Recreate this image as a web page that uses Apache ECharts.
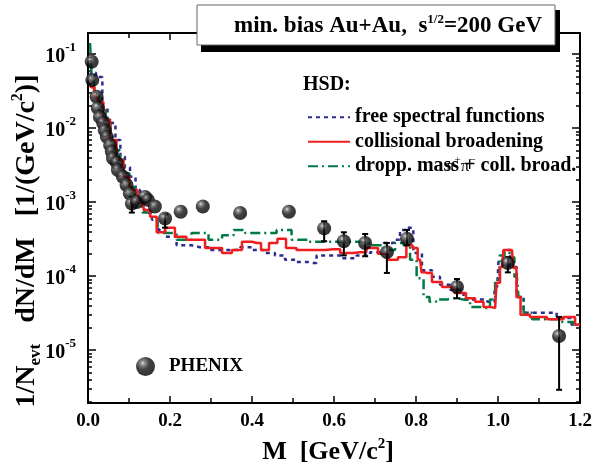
<!DOCTYPE html>
<html><head><meta charset="utf-8">
<script src="https://cdn.jsdelivr.net/npm/echarts@6/dist/echarts.min.js"></script>
<style>html,body{margin:0;padding:0;background:#fff}#c{width:602px;height:464px}</style>
</head><body><div id="c"></div>
<script>
// ---------- data ----------
const xTickLabels = ['0.0','0.2','0.4','0.6','0.8','1.0','1.2'];
const yTickExponents = [-5,-4,-3,-2,-1];

// HSD: free spectral functions (blue dotted)
const mFree = [0.005,0.010,0.029,0.041,0.054,0.061,0.073,0.085,0.095,0.110,0.122,0.132,0.144,0.168,0.176,0.200,0.232,0.273,0.315,0.354,0.388,0.412,0.444,0.468,0.493,0.524,0.549,0.566,0.598,0.639,0.671,0.705,0.737,0.754,0.768,0.785,0.802,0.827,0.851,0.866,0.900,0.932,0.963,0.985,0.998,1.005,1.022,1.037,1.054,1.071,1.095,1.127,1.159,1.200];
const yFree = [0.050,0.056,0.049,0.019,0.0129,0.0117,0.0069,0.0041,0.00295,0.0022,0.00145,9.8e-4,7.1e-4,5.75e-4,4.2e-4,3.4e-4,2.6e-4,2.45e-4,2.25e-4,2.25e-4,2.45e-4,2.25e-4,2.05e-4,1.9e-4,1.66e-4,1.55e-4,1.5e-4,1.9e-4,1.9e-4,1.74e-4,1.9e-4,2.1e-4,2.8e-4,3.1e-4,4.2e-4,4.5e-4,2.05e-4,1.2e-4,9.8e-5,7.6e-5,6.5e-5,4.8e-5,4.8e-5,4.5e-5,7.1e-5,1.66e-4,2.25e-4,1.32e-4,5.2e-5,3.2e-5,3.2e-5,3.2e-5,2.7e-5,2.2e-5];

// HSD: collisional broadening (red solid)
const mColl = [0.005,0.010,0.022,0.029,0.046,0.061,0.078,0.095,0.107,0.115,0.127,0.144,0.159,0.176,0.200,0.224,0.256,0.315,0.339,0.363,0.388,0.412,0.432,0.451,0.473,0.493,0.524,0.559,0.598,0.632,0.663,0.695,0.720,0.744,0.768,0.785,0.798,0.810,0.817,0.827,0.851,0.876,0.912,0.932,0.956,0.973,0.993,1.000,1.010,1.017,1.034,1.041,1.049,1.061,1.095,1.144,1.176,1.200];
const yColl = [0.038,0.0355,0.0263,0.0224,0.0129,0.0069,0.0037,0.0022,0.00158,0.00145,9.8e-4,7.8e-4,6.3e-4,3.9e-4,4.5e-4,3.4e-4,3.1e-4,2.4e-4,2.05e-4,2.25e-4,2.9e-4,2.8e-4,2.25e-4,2.8e-4,3.2e-4,2.4e-4,2.25e-4,2.25e-4,2.3e-4,2.05e-4,2.1e-4,2.4e-4,2.0e-4,1.66e-4,1.8e-4,2.6e-4,2.4e-4,1.66e-4,1.12e-4,1.1e-4,8.3e-5,7.1e-5,5.9e-5,5.0e-5,4.5e-5,3.8e-5,3.7e-5,8.1e-5,1.32e-4,2.25e-4,2.25e-4,1.29e-4,5.2e-5,3.0e-5,2.8e-5,2.6e-5,2.8e-5,2.2e-5];

// HSD: dropping mass + coll. broad. (green dash-dot)
const mDrop = [0.005,0.012,0.017,0.037,0.049,0.061,0.073,0.083,0.095,0.107,0.122,0.144,0.168,0.176,0.200,0.232,0.273,0.315,0.339,0.371,0.395,0.420,0.444,0.476,0.517,0.559,0.607,0.663,0.705,0.737,0.761,0.778,0.793,0.810,0.827,0.839,0.859,0.890,0.915,0.949,0.973,0.988,0.998,1.010,1.022,1.034,1.046,1.054,1.071,1.095,1.134,1.168,1.200];
const yDrop = [0.141,0.055,0.0295,0.0174,0.0129,0.0076,0.0050,0.0037,0.00245,0.00158,0.00107,7.2e-4,6.0e-4,3.8e-4,3.8e-4,3.1e-4,3.8e-4,3.1e-4,3.55e-4,4.2e-4,3.8e-4,3.8e-4,3.8e-4,4.2e-4,3.1e-4,2.9e-4,2.9e-4,2.9e-4,2.6e-4,2.25e-4,2.8e-4,2.6e-4,1.66e-4,9.3e-5,5.2e-5,4.5e-5,4.8e-5,5.0e-5,4.8e-5,3.8e-5,3.7e-5,4.8e-5,8.9e-5,1.9e-4,2.1e-4,1.8e-4,9.8e-5,5.2e-5,3.2e-5,2.6e-5,2.6e-5,2.4e-5,2.2e-5];

// PHENIX data
const mPhenix = [0.009,0.0105,0.021,0.024,0.029,0.037,0.041,0.046,0.054,0.058,0.061,0.070,0.073,0.085,0.094,0.102,0.107,0.119,0.139,0.146,0.163,0.188,0.226,0.280,0.371,0.490,0.576,0.624,0.676,0.729,0.778,0.900,1.024,1.149];
const yPhenix = [0.0787,0.0446,0.0265,0.0186,0.0141,0.0117,0.0093,0.0076,0.0059,0.0048,0.0039,0.0034,0.0027,0.0022,0.0017,0.0013,9.5e-4,0.0010,0.00117,0.00107,8.7e-4,6.0e-4,7.4e-4,8.7e-4,7.1e-4,7.4e-4,4.4e-4,2.95e-4,2.8e-4,2.1e-4,3.2e-4,7.1e-5,1.5e-4,1.55e-5];
// PHENIX error bars
const mErr  = [0.107,0.188,0.576,0.624,0.676,0.729,0.778,0.900,1.024,1.149];
const errLo = [7.2e-4,4.5e-4,2.95e-4,1.9e-4,1.85e-4,1.1e-4,2.6e-4,5.0e-5,1.12e-4,2.9e-6];
const errHi = [1.17e-3,6.8e-4,5.5e-4,3.9e-4,3.7e-4,2.8e-4,4.2e-4,9.1e-5,1.8e-4,2.8e-5];

// ---------- chart ----------
const FONT = 'Liberation Serif';
const Y_MIN = -5.716, Y_MAX = -0.716;
const L = Math.log10;
const pairs = (ms, ys) => ms.map((m, i) => [m, L(ys[i])]);

const minorY = [];
for (let n = -6; n <= -1; n++) for (let k = 2; k <= 9; k++) {
  const v = n + L(k);
  if (v > Y_MIN && v < Y_MAX) minorY.push(v);
}

const sphere = new echarts.graphic.RadialGradient(0.36, 0.32, 0.7, [
  {offset: 0, color: '#d8d8d8'},
  {offset: 0.18, color: '#6a6a6a'},
  {offset: 0.5, color: '#121212'},
  {offset: 1, color: '#000'}
]);

const axisLine = {show: true, lineStyle: {color: '#000', width: 2}};
const yBase = {type: 'value', min: Y_MIN, max: Y_MAX, splitLine: {show: false}, gridIndex: 0};

const chart = echarts.init(document.getElementById('c'), null, {renderer: 'canvas'});
chart.setOption({
  animation: false,
  backgroundColor: '#fff',
  grid: {left: 88, right: 22, top: 33, bottom: 61},
  xAxis: [
    {type: 'value', min: 0, max: 1.2, interval: 0.2, position: 'bottom',
     axisLine, splitLine: {show: false},
     axisTick: {inside: true, length: 7, lineStyle: {width: 1.5, color: '#000'}},
     minorTick: {show: true, splitNumber: 2, length: 5, lineStyle: {width: 1.5, color: '#000'}},
     axisLabel: {margin: 9, color: '#000', fontFamily: FONT, fontWeight: 'bold', fontSize: 19,
       formatter: v => xTickLabels[Math.round(v / 0.2)]}},
    {type: 'value', min: 0, max: 1.2, interval: 0.2, position: 'top',
     axisLine, splitLine: {show: false},
     axisTick: {inside: true, length: 7, lineStyle: {width: 1.5, color: '#000'}},
     minorTick: {show: true, splitNumber: 2, length: 5, lineStyle: {width: 1.5, color: '#000'}},
     axisLabel: {show: false}}
  ],
  yAxis: [
    Object.assign({}, yBase, {position: 'left', axisLine,
      axisTick: {inside: true, length: 8, customValues: yTickExponents, lineStyle: {width: 1.5, color: '#000'}},
      axisLabel: {customValues: yTickExponents, margin: 12, color: '#000',
        formatter: v => '{b|10}{s|' + Math.round(v) + '}',
        rich: {
          b: {fontFamily: FONT, fontWeight: 'bold', fontSize: 20, lineHeight: 26, verticalAlign: 'bottom', color: '#000'},
          s: {fontFamily: FONT, fontWeight: 'bold', fontSize: 13, lineHeight: 26, verticalAlign: 'top', color: '#000'}
        }}}),
    Object.assign({}, yBase, {position: 'left', axisLine: {show: false},
      axisTick: {inside: true, length: 4, customValues: minorY, lineStyle: {width: 1.5, color: '#000'}},
      axisLabel: {show: false}}),
    Object.assign({}, yBase, {position: 'right', axisLine,
      axisTick: {inside: true, length: 8, customValues: yTickExponents, lineStyle: {width: 1.5, color: '#000'}},
      axisLabel: {show: false}}),
    Object.assign({}, yBase, {position: 'right', axisLine: {show: false},
      axisTick: {inside: true, length: 4, customValues: minorY, lineStyle: {width: 1.5, color: '#000'}},
      axisLabel: {show: false}})
  ],
  legend: [
    {data: ['free spectral functions', 'collisional broadening', 'dropp. mass + coll. broad.'],
     orient: 'vertical', left: 302, top: 102, itemWidth: 42, itemHeight: 14, itemGap: 4,
     itemStyle: {opacity: 0}, selectedMode: false,
     textStyle: {fontFamily: FONT, fontWeight: 'bold', fontSize: 20, lineHeight: 20.5, color: '#000'}},
    {data: ['PHENIX'], left: 131, top: 352, icon: 'circle', itemWidth: 19, itemHeight: 19, selectedMode: false,
     textStyle: {fontFamily: FONT, fontWeight: 'bold', fontSize: 19, color: '#000', padding: [0,0,0,9]}}
  ],
  series: [
    {name: 'free spectral functions', type: 'line', step: 'middle', symbol: 'none', z: 3,
     data: pairs(mFree, yFree), color: '#2b2b90',
     lineStyle: {color: '#2b2b90', width: 2.5, type: [4, 4]}},
    {name: 'dropp. mass + coll. broad.', type: 'line', step: 'middle', symbol: 'none', z: 3,
     data: pairs(mDrop, yDrop), color: '#007a45',
     lineStyle: {color: '#007a45', width: 2.5, type: [10, 4, 2, 4]}},
    {name: 'collisional broadening', type: 'line', step: 'middle', symbol: 'none', z: 4,
     data: pairs(mColl, yColl), color: '#f01e1e',
     lineStyle: {color: '#f01e1e', width: 2.5}},
    {name: 'err', type: 'custom', z: 5,
     data: mErr.map((m, i) => [m, L(errLo[i]), L(errHi[i])]),
     encode: {x: 0, y: [1, 2]},
     renderItem: (params, api) => {
       const p1 = api.coord([api.value(0), api.value(1)]);
       const p2 = api.coord([api.value(0), api.value(2)]);
       const st = {stroke: '#000', lineWidth: 2};
       return {type: 'group', children: [
         {type: 'line', shape: {x1: p1[0], y1: p1[1], x2: p2[0], y2: p2[1]}, style: st},
         {type: 'line', shape: {x1: p1[0] - 3, y1: p1[1], x2: p1[0] + 3, y2: p1[1]}, style: st},
         {type: 'line', shape: {x1: p2[0] - 3, y1: p2[1], x2: p2[0] + 3, y2: p2[1]}, style: st}
       ]};
     }},
    {name: 'PHENIX', type: 'scatter', symbol: 'circle', symbolSize: 14, z: 6,
     data: pairs(mPhenix, yPhenix),
     itemStyle: {color: sphere, borderWidth: 0}}
  ],
  graphic: [
    {type: 'rect', z: 100, shape: {x: 554, y: 10, width: 6, height: 42}, style: {fill: '#000'}},
    {type: 'rect', z: 100, shape: {x: 201, y: 45, width: 359, height: 7}, style: {fill: '#000'}},
    {type: 'rect', z: 101, shape: {x: 197, y: 5, width: 358, height: 40}, style: {fill: '#fff', stroke: '#666', lineWidth: 1}},
    {type: 'text', z: 102, x: 388, y: 26, style: {
      text: 'min. bias Au+Au,  s{sup|1/2}=200 GeV', align: 'center', verticalAlign: 'middle',
      fontFamily: FONT, fontWeight: 'bold', fontSize: 23, fill: '#000',
      rich: {sup: {fontFamily: FONT, fontWeight: 'bold', fontSize: 13, verticalAlign: 'top', lineHeight: 26}}}},
    {type: 'text', z: 102, x: 303, y: 85, style: {
      text: 'HSD:', verticalAlign: 'middle', fontFamily: FONT, fontWeight: 'bold', fontSize: 20, fill: '#000'}},
    {type: 'text', z: 102, x: 446, y: 167, style: {
      text: 'π{s|+}π{s|−}', verticalAlign: 'middle', fontFamily: FONT, fontSize: 17, fill: '#000',
      rich: {s: {fontFamily: FONT, fontSize: 11, verticalAlign: 'top', lineHeight: 24}}}},
    {type: 'text', z: 102, x: 328, y: 452, style: {
      text: 'M  [GeV/c{s|2}]', align: 'center', verticalAlign: 'middle',
      fontFamily: FONT, fontWeight: 'bold', fontSize: 26, fill: '#000',
      rich: {s: {fontFamily: FONT, fontWeight: 'bold', fontSize: 15, verticalAlign: 'top', lineHeight: 30}}}},
    {type: 'text', z: 102, x: 27, y: 241, rotation: Math.PI / 2, style: {
      text: '1/N{d|evt}   dN/dM   [1/(GeV/c{s|2})]', align: 'center', verticalAlign: 'middle',
      fontFamily: FONT, fontWeight: 'bold', fontSize: 28, fill: '#000',
      rich: {
        d: {fontFamily: FONT, fontWeight: 'bold', fontSize: 17, verticalAlign: 'bottom', lineHeight: 34},
        s: {fontFamily: FONT, fontWeight: 'bold', fontSize: 16, verticalAlign: 'top', lineHeight: 34}
      }}}
  ]
});
</script></body></html>
